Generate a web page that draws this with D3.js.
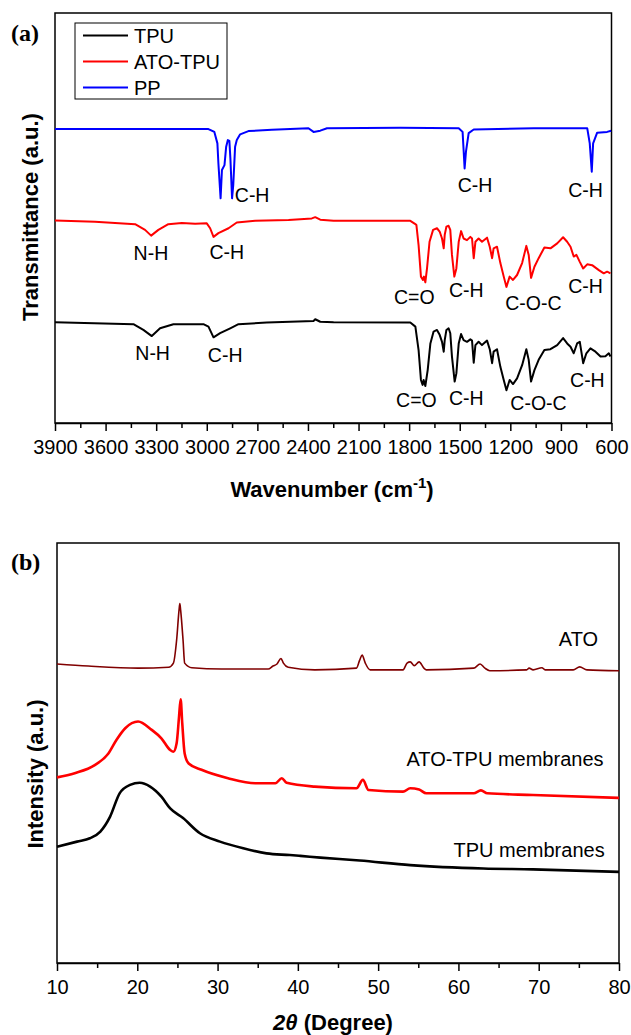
<!DOCTYPE html>
<html>
<head>
<meta charset="utf-8">
<script src="https://cdn.jsdelivr.net/npm/d3@7"></script>
<style>
  body { margin: 0; background: #fff; }
  svg { display: block; font-family: "Liberation Sans", Arial, sans-serif; }
</style>
</head>
<body>
<svg width="631" height="1035"></svg>
<script>
// ---- (a) FTIR: [wavenumber (cm-1), transmittance (a.u.)]
const ppFtir = [
  [3900,71.7],[3504,71.7],[2990,71.7],[2955,71.0],[2937,68.2],[2931,63.3],[2918,54.8],[2910,61.7],
  [2895,62.9],[2885,67.4],[2875,69.0],[2866,68.8],[2860,64.6],[2850,54.8],[2843,58.0],[2832,67.4],
  [2822,69.0],[2802,70.4],[2753,71.2],[2614,71.5],[2397,71.9],[2367,71.0],[2327,71.3],[2287,71.9],
  [1852,72.0],[1506,71.9],[1483,71.0],[1477,66.6],[1471,62.1],[1463,66.2],[1447,70.7],[1417,71.6],
  [1061,71.9],[744,71.9],[729,68.2],[717,61.3],[709,68.2],[685,70.8],[626,71.0],[602,71.3]
];
const atoTpuFtir = [
  [3900,49.4],[3663,49.1],[3425,48.5],[3366,47.1],[3330,45.7],[3287,47.1],[3228,48.5],[3148,48.8],
  [3069,48.6],[3000,48.7],[2980,47.5],[2960,45.4],[2931,46.3],[2871,47.5],[2822,48.9],[2713,49.3],
  [2515,49.5],[2377,49.9],[2357,50.2],[2327,49.6],[2248,49.3],[1793,49.3],[1763,48.5],[1757,48.3],
  [1744,43.4],[1730,35.7],[1718,34.9],[1712,35.7],[1704,34.3],[1694,37.7],[1679,44.2],[1658,47.1],
  [1635,47.5],[1619,46.7],[1605,45.0],[1595,42.6],[1589,45.9],[1579,47.9],[1566,48.1],[1556,47.1],
  [1546,41.0],[1532,35.7],[1520,37.7],[1506,44.2],[1492,46.8],[1477,45.0],[1457,44.6],[1437,45.4],
  [1427,45.0],[1417,40.2],[1407,44.2],[1388,45.0],[1368,44.2],[1338,45.2],[1322,43.0],[1308,40.2],
  [1299,42.6],[1279,43.0],[1259,39.0],[1239,35.7],[1223,33.2],[1204,35.7],[1184,34.9],[1160,36.1],
  [1130,39.0],[1105,43.2],[1091,41.0],[1077,35.4],[1057,38.1],[1032,40.2],[998,42.8],[962,42.6],
  [922,43.8],[887,45.3],[863,44.2],[843,43.0],[824,40.6],[808,41.0],[788,39.3],[768,37.7],
  [744,38.7],[715,38.5],[675,37.3],[646,36.5],[626,36.9],[606,36.5]
];
const tpuFtir = [
  [3900,24.6],[3435,24.1],[3376,22.7],[3326,21.2],[3277,23.1],[3198,24.1],[3020,24.1],[2990,23.5],
  [2960,20.9],[2921,21.9],[2861,23.1],[2812,24.1],[2644,24.5],[2367,24.9],[2357,25.3],[2327,24.7],
  [2248,24.6],[1793,24.5],[1763,23.5],[1744,17.8],[1730,10.5],[1720,9.3],[1714,10.5],[1704,9.0],
  [1690,12.9],[1674,19.4],[1655,22.3],[1635,22.7],[1619,21.5],[1605,19.8],[1595,17.4],[1589,20.2],
  [1579,22.7],[1566,23.1],[1556,21.9],[1546,16.2],[1530,10.1],[1520,12.1],[1506,19.4],[1492,21.7],
  [1477,20.2],[1457,19.8],[1437,20.4],[1427,20.1],[1417,14.7],[1407,19.0],[1388,19.8],[1368,19.0],
  [1338,20.1],[1322,18.0],[1308,14.6],[1299,17.4],[1279,18.0],[1259,13.7],[1239,10.5],[1223,8.0],
  [1204,10.5],[1184,9.5],[1160,10.9],[1130,14.1],[1105,18.0],[1091,15.4],[1077,10.1],[1057,12.9],
  [1032,15.4],[998,17.8],[962,18.0],[922,19.0],[887,20.7],[863,19.4],[843,18.6],[824,17.0],
  [804,19.4],[788,19.8],[768,14.6],[749,17.0],[725,18.2],[695,17.4],[665,16.2],[636,16.3],
  [616,17.0],[606,16.2]
];
const ftirMajorTicks = [3900,3600,3300,3000,2700,2400,2100,1800,1500,1200,900,600];
const ftirMinorTicks = [3750,3450,3150,2850,2550,2250,1950,1650,1350,1050,750];
const ftirLegend = ["TPU", "ATO-TPU", "PP"];
// peak labels: [text, wavenumber, a.u.]
const ftirLabels = [
  ["C-H",2731,55.6],["C-H",1409,58.0],["C-H",754,56.8],
  ["N-H",3331,41.5],["C-H",2881,41.8],["C=O",1769,30.8],["C-H",1461,32.4],["C-O-C",1063,29.3],["C-H",754,33.4],
  ["N-H",3321,17.1],["C-H",2891,16.6],["C=O",1757,5.6],["C-H",1461,6.1],["C-O-C",1033,4.9],["C-H",743,10.5]
];

// ---- (b) XRD: [2theta (degree), intensity (a.u.)]
const atoXrd = [
  [10,71.2],[13.9,70.7],[20.1,70.2],[23.9,70.4],[24.5,71.4],[24.9,76.9],[25.2,84.0],[25.3,85.6],
  [25.4,84.0],[25.7,76.9],[25.9,71.4],[26.8,70.3],[30.5,70.0],[36.3,70.0],[36.9,70.7],[37.4,71.2],
  [37.9,72.5],[38.2,71.4],[38.8,70.4],[42.1,69.8],[47.3,70.2],[47.7,72.1],[48.0,73.3],[48.4,71.4],
  [49.0,69.8],[53.1,69.8],[53.6,71.4],[54.0,71.7],[54.5,70.8],[55.1,71.7],[55.7,70.2],[56.0,69.8],
  [61.9,70.2],[62.7,71.2],[63.3,70.2],[63.9,69.6],[68.5,69.8],[68.8,70.2],[69.3,69.8],[70.4,70.3],
  [70.8,69.8],[74.3,69.8],[75.1,70.5],[76.0,69.8],[80,69.6]
];
const atoTpuXrd = [
  [10,44.2],[12.2,45.2],[14.7,47.1],[16.4,49.9],[17.4,53.1],[18.5,55.9],[20.1,57.5],[21.8,55.5],
  [23.0,53.5],[24.1,50.7],[24.5,50.3],[24.9,52.3],[25.2,58.6],[25.4,62.8],[25.6,57.1],[25.9,49.9],
  [26.4,47.5],[28.0,46.0],[31.3,44.0],[34.7,42.8],[37.2,42.8],[38.0,44.0],[38.6,42.9],[42.1,42.0],
  [47.3,41.6],[48.1,43.6],[48.8,41.2],[53.1,40.8],[54.0,41.6],[55.1,41.3],[56.0,40.4],[61.9,40.4],
  [62.8,41.1],[63.6,40.4],[69.3,40.0],[80,39.3]
];
const tpuXrd = [
  [10,27.7],[12.5,28.9],[14.1,29.7],[15.4,31.3],[16.6,34.8],[17.8,40.4],[19.1,42.4],[20.3,42.9],
  [21.6,42.0],[23.0,39.6],[24.1,36.8],[25.7,34.5],[27.8,30.9],[30.3,28.9],[33.2,27.3],[36.1,26.1],
  [39.0,25.7],[40.3,25.5],[42.8,25.1],[47.7,24.4],[54.0,23.3],[63.1,22.5],[69.3,22.3],[80,21.7]
];
const xrdMajorTicks = [10,20,30,40,50,60,70,80];
const xrdMinorTicks = [15,25,35,45,55,65,75];
// curve labels: [text, 2theta, a.u.]
const xrdLabels = [["ATO",74.95,77.3],["ATO-TPU membranes",65.8,48.7],["TPU membranes",68.8,26.9]];

const svg = d3.select("svg");

function bottomAxis(g, x, h, major, minor) {
    const ax = g.append("g")
        .attr("transform", `translate(0,${h})`)
        .call(d3.axisBottom(x).tickValues(major).tickFormat(d3.format("d"))
            .tickSize(8).tickPadding(9).tickSizeOuter(0));
    ax.select(".domain").attr("stroke-width", 1.5);
    ax.selectAll(".tick line").attr("stroke-width", 1.5);
    ax.selectAll("text").attr("font-size", 20).attr("font-family", "Liberation Sans, Arial").attr("fill", "#000");
    const mn = g.append("g")
        .attr("transform", `translate(0,${h})`)
        .call(d3.axisBottom(x).tickValues(minor).tickSize(5).tickFormat("").tickSizeOuter(0));
    mn.select(".domain").remove();
    mn.selectAll(".tick line").attr("stroke-width", 1.5);
}

// ---------- panel (a)
const ma = {left: 55, top: 13}, wa = 556.5, ha = 410;
const ga = svg.append("g").attr("transform", `translate(${ma.left},${ma.top})`);
const xa = d3.scaleLinear().domain([3900, 600]).range([0, wa]);
const ya = d3.scaleLinear().domain([0, 100]).range([ha, 0]);
const lineA = d3.line().x(d => xa(d[0])).y(d => ya(d[1]));

ga.append("rect").attr("width", wa).attr("height", ha)
    .attr("fill", "none").attr("stroke", "#000").attr("stroke-width", 1.5);

const ftirSeries = [
    {data: tpuFtir, color: "#000000"},
    {data: atoTpuFtir, color: "#ff0000"},
    {data: ppFtir, color: "#0000ff"}
];
ftirSeries.forEach(s => {
    ga.append("path").datum(s.data)
        .attr("fill", "none").attr("stroke", s.color).attr("stroke-width", 2)
        .attr("stroke-linejoin", "round")
        .attr("d", lineA);
});

ga.selectAll(".plabel").data(ftirLabels).enter().append("text")
    .attr("x", d => xa(d[1])).attr("y", d => ya(d[2]))
    .attr("dy", "0.36em").attr("text-anchor", "middle")
    .attr("font-size", 19.5).text(d => d[0]);

bottomAxis(ga, xa, ha, ftirMajorTicks, ftirMinorTicks);

// legend
const leg = ga.append("g").attr("transform", "translate(20,10)");
leg.append("rect").attr("width", 152).attr("height", 76)
    .attr("fill", "#fff").attr("stroke", "#000").attr("stroke-width", 1);
ftirLegend.forEach((name, i) => {
    const yy = 12.5 + i * 26;
    leg.append("line").attr("x1", 8).attr("x2", 53).attr("y1", yy).attr("y2", yy)
        .attr("stroke", ftirSeries[i].color).attr("stroke-width", 2);
    leg.append("text").attr("x", 59).attr("y", yy).attr("dy", "0.36em")
        .attr("font-size", 20).text(name);
});

svg.append("text").attr("x", 11).attr("y", 41)
    .attr("font-family", "Liberation Serif, Times New Roman, serif")
    .attr("font-weight", "bold").attr("font-size", 24).text("(a)");

const xta = svg.append("text").attr("x", 332).attr("y", 497)
    .attr("text-anchor", "middle").attr("font-weight", "bold").attr("font-size", 22);
xta.append("tspan").text("Wavenumber (cm");
xta.append("tspan").attr("dy", -9).attr("font-size", 15).text("-1");
xta.append("tspan").attr("dy", 9).text(")");

svg.append("text").attr("transform", "translate(38,217) rotate(-90)")
    .attr("text-anchor", "middle").attr("font-weight", "bold").attr("font-size", 22)
    .text("Transmittance (a.u.)");

// ---------- panel (b)
const mb = {left: 57, top: 543}, wb = 562, hb = 420;
const gb = svg.append("g").attr("transform", `translate(${mb.left},${mb.top})`);
const xb = d3.scaleLinear().domain([10, 80]).range([0, wb]);
const yb = d3.scaleLinear().domain([0, 100]).range([hb, 0]);
const lineB = d3.line().x(d => xb(d[0])).y(d => yb(d[1])).curve(d3.curveMonotoneX);

gb.append("rect").attr("width", wb).attr("height", hb)
    .attr("fill", "none").attr("stroke", "#000").attr("stroke-width", 1.5);

const xrdSeries = [
    {data: tpuXrd, color: "#000000", w: 2.6},
    {data: atoTpuXrd, color: "#ff0000", w: 2.6},
    {data: atoXrd, color: "#800000", w: 1.6}
];
xrdSeries.forEach(s => {
    gb.append("path").datum(s.data)
        .attr("fill", "none").attr("stroke", s.color).attr("stroke-width", s.w)
        .attr("stroke-linejoin", "round")
        .attr("d", lineB);
});

gb.selectAll(".clabel").data(xrdLabels).enter().append("text")
    .attr("x", d => xb(d[1])).attr("y", d => yb(d[2]))
    .attr("dy", "0.36em").attr("text-anchor", "middle")
    .attr("font-size", 20).text(d => d[0]);

bottomAxis(gb, xb, hb, xrdMajorTicks, xrdMinorTicks);

svg.append("text").attr("x", 11).attr("y", 570)
    .attr("font-family", "Liberation Serif, Times New Roman, serif")
    .attr("font-weight", "bold").attr("font-size", 24).text("(b)");

const xtb = svg.append("text").attr("x", 333).attr("y", 1030)
    .attr("text-anchor", "middle").attr("font-weight", "bold").attr("font-size", 22);
xtb.append("tspan").attr("font-style", "italic").text("2");
xtb.append("tspan").attr("font-style", "italic").text("θ");
xtb.append("tspan").text(" (Degree)");

svg.append("text").attr("transform", "translate(43,774) rotate(-90)")
    .attr("text-anchor", "middle").attr("font-weight", "bold").attr("font-size", 22)
    .text("Intensity (a.u.)");
</script>
</body>
</html>
